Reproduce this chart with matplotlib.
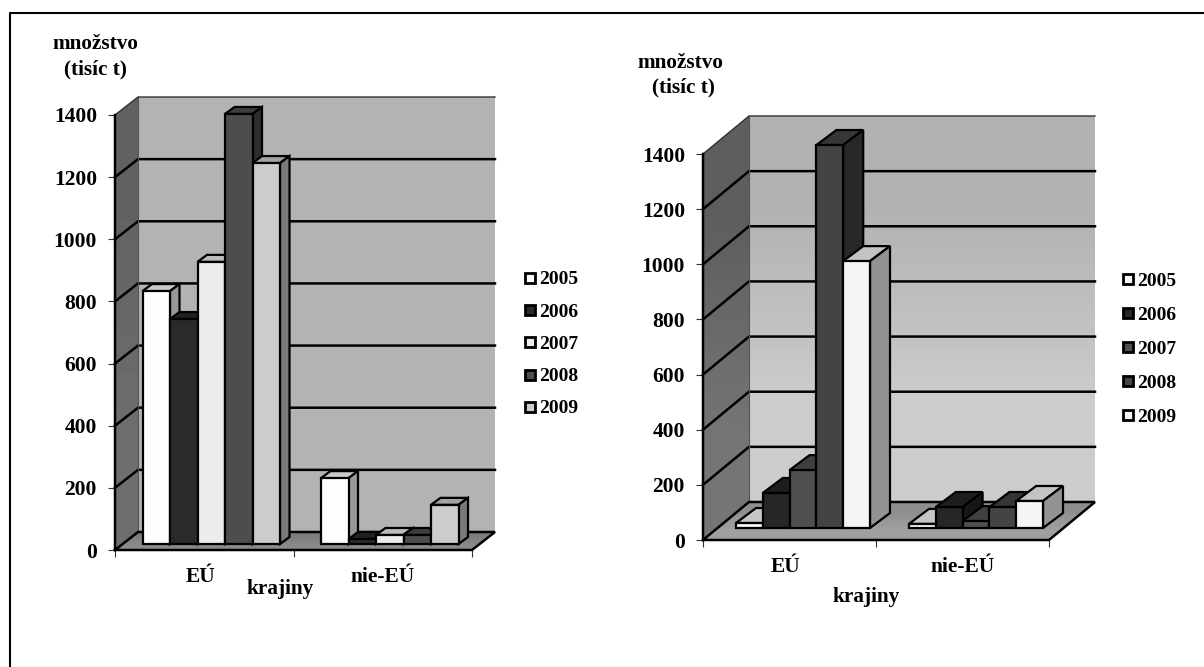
"""Two pseudo-3D bar charts: množstvo (tisíc t) by krajiny, 2005-2009"""
import matplotlib
matplotlib.use('Agg')
import matplotlib.pyplot as plt
from matplotlib.patches import Rectangle

plt.rcParams['font.family'] = ['Liberation Serif', 'DejaVu Serif']
plt.rcParams['font.weight'] = 'bold'

W, H = 1204, 667
YEARS = ['2005', '2006', '2007', '2008', '2009']
REGIONS = ['EÚ', 'nie-EÚ']
Y_TICKS = [0, 200, 400, 600, 800, 1000, 1200, 1400]

# values, one list per year: [EÚ, nie-EÚ]
LEFT_2005 = [814, 212]
LEFT_2006 = [724, 16]
LEFT_2007 = [908, 29]
LEFT_2008 = [1384, 29]
LEFT_2009 = [1226, 126]

RIGHT_2005 = [18, 15]
RIGHT_2006 = [127, 76]
RIGHT_2007 = [210, 25]
RIGHT_2008 = [1389, 76]
RIGHT_2009 = [968, 98]

LEFT_COLORS = ['#fdfdfd', '#2a2a2a', '#ececec', '#4d4d4d', '#cccccc']
RIGHT_COLORS = ['#f8f8f8', '#262626', '#4f4f4f', '#444444', '#f5f5f5']


def shade(c, f):
    v = int(c[1:3], 16)
    v = int(v * f)
    return '#%02x%02x%02x' % (v, v, v)


def gradient(ax, xs, ys, c1, c2):
    # vertical gray gradient clipped to a polygon
    poly = ax.fill(xs, ys, color=c1, lw=0, zorder=1, clip_on=False)[0]
    v1, v2 = int(c1[1:3], 16), int(c2[1:3], 16)
    im = ax.imshow([[v1], [v2]], cmap='gray', vmin=0, vmax=255, aspect='auto', interpolation='bilinear',
                   extent=(min(xs), max(xs), min(ys), max(ys)), zorder=1)
    im.set_clip_box(fig.bbox)
    im.set_clip_path(poly)


def chart(x0, x1, y0, y14, series, colors, wall_d, bar_off, bar_d, bar_w, back, side, floor):
    ax = fig.add_axes([x0 / W, 1 - y0 / H, (x1 - x0) / W, (y0 - y14) / H])
    ax.patch.set_visible(False)
    px = 2 / (x1 - x0)            # data units per pixel
    py = 1400 / (y0 - y14)
    wx, wy = wall_d[0] * px, wall_d[1] * py
    ox, oy = bar_off[0] * px, bar_off[1] * py
    dx, dy = bar_d[0] * px, bar_d[1] * py
    bw = bar_w * px

    # walls and floor
    gradient(ax, [wx, 2 + wx, 2 + wx, wx], [wy, wy, 1400 + wy, 1400 + wy], back[0], back[1])
    gradient(ax, [0, wx, wx, 0], [0, wy, 1400 + wy, 1400], side[0], side[1])
    gradient(ax, [0, 2, 2 + wx, wx], [0, 0, wy, wy], floor[0], floor[1])
    ax.set_xlim(0, 2)
    ax.set_ylim(0, 1400)

    for v in Y_TICKS[1:-1]:
        ax.plot([0, wx, 2 + wx], [v, v + wy, v + wy], color='k', lw=1.8, zorder=2, clip_on=False,
                solid_joinstyle='miter')
    ax.plot([wx, wx], [wy, 1400 + wy], color='#555555', lw=0.8, zorder=2, clip_on=False)
    ax.plot([0, wx, 2 + wx], [1400, 1400 + wy, 1400 + wy], color='#333333', lw=1.0, zorder=2, clip_on=False)
    ax.plot([0, wx, 2 + wx, 2, 0, 0], [0, wy, wy, 0, 0, 1400], color='k', lw=1.8, zorder=2, clip_on=False,
            solid_joinstyle='miter')

    # bars, left to right so the next front hides the last side
    z = 3
    for r in range(2):
        left = r + 0.5 + ox - 2.5 * bw
        for i in range(5):
            v = series[i][r]
            x = left + i * bw
            c = colors[i]
            ax.fill([x, x + dx, x + bw + dx, x + bw], [oy + v, oy + v + dy, oy + v + dy, oy + v],
                    fc=shade(c, 0.8), ec='k', lw=1.6, zorder=z, clip_on=False)
            ax.fill([x + bw, x + bw + dx, x + bw + dx, x + bw], [oy, oy + dy, oy + v + dy, oy + v],
                    fc=shade(c, 0.6), ec='k', lw=1.6, zorder=z, clip_on=False)
            ax.bar(x, v, bw, bottom=oy, align='edge', fc=c, ec='k', lw=1.6, zorder=z + 0.5, clip_on=False)
            z += 1

    for s in ax.spines.values():
        s.set_visible(False)
    ax.set_yticks(Y_TICKS)
    ax.set_xticks([0, 1, 2])
    ax.set_xticklabels([])
    ax.set_xticks([0.48, 1.5], minor=True)
    ax.set_xticklabels(REGIONS, minor=True, fontsize=15.5)
    ax.tick_params(axis='x', which='minor', length=0, pad=12)
    ax.tick_params(axis='x', which='major', length=5, width=0.8, color='#333333')
    ax.tick_params(axis='y', length=5, width=0.8, color='#333333', labelsize=15.5, pad=8)
    return ax


def legend(mx, ty, step, colors):
    for i, y in enumerate(YEARS):
        yc = ty + i * step
        fig.patches.append(Rectangle((mx / W, 1 - (yc + 5) / H), 10 / W, 10 / H, transform=fig.transFigure,
                                     fc=colors[i], ec='k', lw=2))
        fig.text((mx + 14) / W, 1 - yc / H, y, fontsize=14, ha='left', va='center_baseline')


fig = plt.figure(figsize=(W / 100, H / 100), dpi=100, facecolor='white')

# page frame
fig.add_artist(plt.Line2D([10 / W, 10 / W, 1], [0, 1 - 13 / H, 1 - 13 / H], color='k', lw=1.5))

chart(115, 472, 550, 115, [LEFT_2005, LEFT_2006, LEFT_2007, LEFT_2008, LEFT_2009], LEFT_COLORS,
      wall_d=(23, 18), bar_off=(7, 6), bar_d=(9.5, 7), bar_w=27.5,
      back=('#b4b4b4', '#b4b4b4'), side=('#626262', '#6e6e6e'), floor=('#7c7c7c', '#8a8a8a'))
chart(703, 1049, 540, 154, [RIGHT_2005, RIGHT_2006, RIGHT_2007, RIGHT_2008, RIGHT_2009], RIGHT_COLORS,
      wall_d=(46, 38), bar_off=(13.5, 12), bar_d=(20, 15), bar_w=26.8,
      back=('#b2b2b2', '#cccccc'), side=('#5e5e5e', '#757575'), floor=('#8e8e8e', '#a0a0a0'))

legend(525, 278, 32.2, LEFT_COLORS)
legend(1123, 279, 34, RIGHT_COLORS)

for x, y, s in [(95, 44, 'množstvo'), (95, 69, '(tisíc t)'), (280, 589, 'krajiny'),
                (680, 63, 'množstvo'), (683, 87, '(tisíc t)'), (866, 597, 'krajiny')]:
    fig.text(x / W, 1 - y / H, s, fontsize=15.3, ha='center', va='center')

fig.savefig('out.png', dpi=100, facecolor='white')
plt.close(fig)
